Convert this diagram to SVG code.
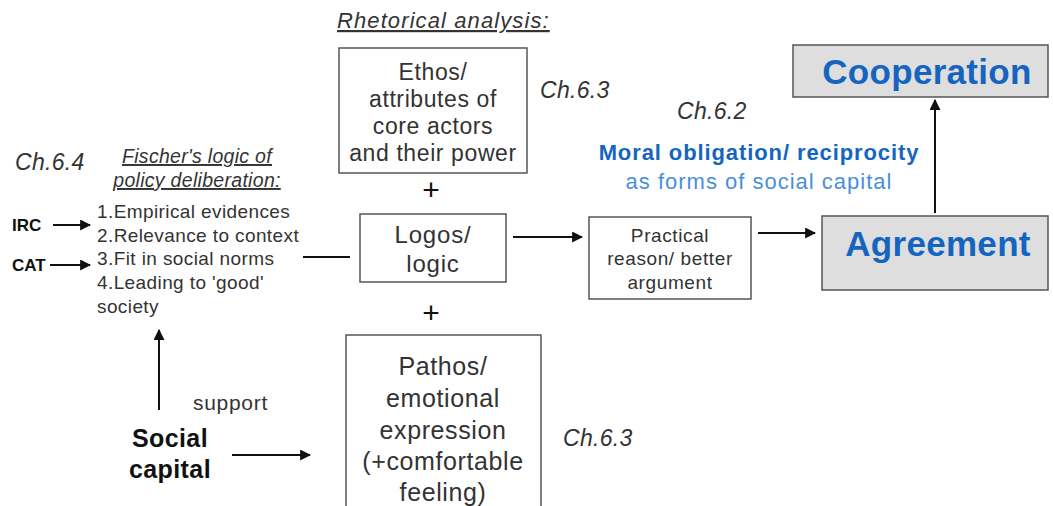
<svg xmlns="http://www.w3.org/2000/svg" width="1053" height="506" viewBox="0 0 1053 506">
  <style>
    text { font-family: "Liberation Sans", Arial, sans-serif; fill: #333; }
    .box { fill: #fff; stroke: #555; stroke-width: 1.5; }
    .goal { fill: #dedede; stroke: #555; stroke-width: 1.5; }
    .goalText { font-weight: bold; fill: #1565c0; font-size: 35px; letter-spacing: 0.3px; }
    .ch { font-style: italic; font-size: 23px; letter-spacing: 0.3px; }
    .head { font-style: italic; text-decoration: underline; }
    .link { stroke: #111; stroke-width: 2; fill: none; }
    .bold { font-weight: bold; fill: #111; }
    .item { font-size: 19px; letter-spacing: 0.4px; }
    .big { font-size: 23px; letter-spacing: 0.6px; }
  </style>
  <defs>
    <marker id="arrow" viewBox="0 0 10 10" refX="9" refY="5" markerWidth="5.5" markerHeight="5.5" orient="auto">
      <path d="M0,0 L10,5 L0,10 Z" fill="#111"/>
    </marker>
  </defs>

  <!-- headings and chapter references -->
  <text x="337" y="28" font-size="22" letter-spacing="1.1" class="head">Rhetorical analysis:</text>
  <text x="540" y="98" class="ch">Ch.6.3</text>
  <text x="677" y="119" class="ch">Ch.6.2</text>
  <text x="15" y="170" class="ch">Ch.6.4</text>
  <text x="563" y="446" class="ch">Ch.6.3</text>
  <text x="759" y="160" font-size="22" letter-spacing="0.9" text-anchor="middle" font-weight="bold" style="fill:#1565c0">Moral obligation/ reciprocity</text>
  <text x="759" y="189" font-size="22" letter-spacing="1" text-anchor="middle" style="fill:#4a90d9">as forms of social capital</text>

  <!-- Fischer's logic -->
  <g id="fischer">
    <text x="197" y="163" font-size="19.5" letter-spacing="0.3" text-anchor="middle" class="head">Fischer's logic of</text>
    <text x="197" y="187" font-size="19.5" letter-spacing="0.3" text-anchor="middle" class="head">policy deliberation:</text>
    <text x="97" y="218" class="item">1.Empirical evidences</text>
    <text x="97" y="242" class="item">2.Relevance to context</text>
    <text x="97" y="265" class="item">3.Fit in social norms</text>
    <text x="97" y="289" class="item">4.Leading to 'good'</text>
    <text x="97" y="313" class="item">society</text>
  </g>
  <g id="irc"><text x="12" y="231" font-size="17" class="bold">IRC</text></g>
  <g id="cat"><text x="12" y="271" font-size="17" class="bold">CAT</text></g>

  <!-- rhetorical boxes -->
  <g id="ethos">
    <rect x="339" y="48" width="188" height="125" class="box"/>
    <text x="433" y="80" text-anchor="middle" class="big">Ethos/</text>
    <text x="433" y="107" text-anchor="middle" class="big">attributes of</text>
    <text x="433" y="134" text-anchor="middle" class="big">core actors</text>
    <text x="433" y="161" text-anchor="middle" class="big">and their power</text>
  </g>
  <g id="plus1"><text x="431" y="200" font-size="30" text-anchor="middle" style="fill:#111">+</text></g>
  <g id="logos">
    <rect x="360" y="214" width="146" height="68" class="box"/>
    <text x="433" y="243" font-size="24" letter-spacing="0.8" text-anchor="middle">Logos/</text>
    <text x="433" y="272" font-size="24" letter-spacing="0.8" text-anchor="middle">logic</text>
  </g>
  <g id="plus2"><text x="431" y="323" font-size="30" text-anchor="middle" style="fill:#111">+</text></g>
  <g id="pathos">
    <rect x="346" y="335" width="195" height="180" class="box"/>
    <text x="443" y="375" font-size="25" letter-spacing="0.6" text-anchor="middle">Pathos/</text>
    <text x="443" y="407" font-size="25" letter-spacing="0.6" text-anchor="middle">emotional</text>
    <text x="443" y="439" font-size="25" letter-spacing="0.6" text-anchor="middle">expression</text>
    <text x="443" y="470" font-size="25" letter-spacing="0.6" text-anchor="middle">(+comfortable</text>
    <text x="443" y="501" font-size="25" letter-spacing="0.6" text-anchor="middle">feeling)</text>
  </g>

  <g id="practical">
    <rect x="589" y="217" width="162" height="82" class="box"/>
    <text x="670" y="242" font-size="19" letter-spacing="0.6" text-anchor="middle">Practical</text>
    <text x="670" y="265" font-size="19" letter-spacing="0.6" text-anchor="middle">reason/ better</text>
    <text x="670" y="289" font-size="19" letter-spacing="0.6" text-anchor="middle">argument</text>
  </g>

  <g id="agreement">
    <rect x="822" y="216" width="226" height="74" class="goal"/>
    <text x="938" y="256" text-anchor="middle" class="goalText">Agreement</text>
  </g>
  <g id="cooperation">
    <rect x="793" y="45" width="255" height="52" class="goal"/>
    <text x="927" y="84" text-anchor="middle" class="goalText">Cooperation</text>
  </g>

  <g id="social-capital">
    <text x="170" y="447" font-size="25" letter-spacing="0.4" text-anchor="middle" class="bold">Social</text>
    <text x="170" y="478" font-size="25" letter-spacing="0.4" text-anchor="middle" class="bold">capital</text>
    <text x="193" y="410" font-size="21" letter-spacing="0.7">support</text>
  </g>

  <!-- connectors -->
  <g id="connectors">
    <line x1="53" y1="225" x2="90" y2="225" class="link" marker-end="url(#arrow)"/>
    <line x1="50" y1="265" x2="90" y2="265" class="link" marker-end="url(#arrow)"/>
    <line x1="303" y1="257" x2="350" y2="257" class="link"/>
    <line x1="513" y1="237" x2="582" y2="237" class="link" marker-end="url(#arrow)"/>
    <line x1="758" y1="233" x2="815" y2="233" class="link" marker-end="url(#arrow)"/>
    <line x1="935" y1="213" x2="935" y2="100" class="link" marker-end="url(#arrow)"/>
    <line x1="159" y1="410" x2="159" y2="330" class="link" marker-end="url(#arrow)"/>
    <line x1="232" y1="455" x2="310" y2="455" class="link" marker-end="url(#arrow)"/>
  </g>
</svg>
